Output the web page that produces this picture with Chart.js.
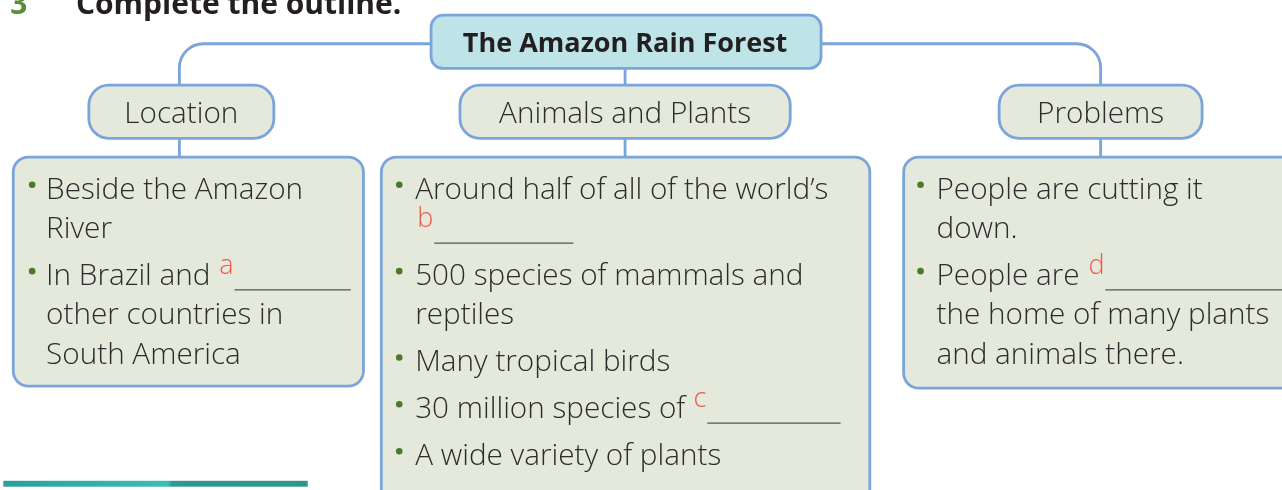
<!DOCTYPE html>
<html><head><meta charset="utf-8">
<script src="https://cdn.jsdelivr.net/npm/chart.js@4.4.1/dist/chart.umd.min.js"></script>
<style>html,body{margin:0;padding:0;background:#fff;overflow:hidden}#wrap{width:1282px;height:490px;position:relative}</style>
</head><body><div id="wrap"><canvas id="c" width="1282" height="490"></canvas></div>
<script>
// ---- content ----
const questionNumber = '3';
const instruction = 'Complete the outline.';
const rootTopic = 'The Amazon Rain Forest';
const branchTopics = ['Location', 'Animals and Plants', 'Problems'];
const locationPoints = [
  ['Beside the Amazon', 'River'],
  ['In Brazil and {a}', 'other countries in', 'South America']
];
const animalPlantPoints = [
  ['Around half of all of the world\u2019s', '{b}'],
  ['500 species of mammals and', 'reptiles'],
  ['Many tropical birds'],
  ['30 million species of {c}'],
  ['A wide variety of plants']
];
const problemPoints = [
  ['People are cutting it', 'down.'],
  ['People are {d}', 'the home of many plants', 'and animals there.']
];
const blankLetters = ['a', 'b', 'c', 'd'];

// ---- layout & style (positions in the 1282 x 490 value space) ----
const LAYOUT = {
  title: {numX: 7, textX: 73, baseline: 11},
  root: {x0: 430, x1: 822, y0: 12, y1: 66, r: 12, baseline: 49, cx: 625},
  branchY0: 83, branchY1: 137, branchR: 20, branchBaseline: 121,
  branches: [{x0: 86, x1: 272, cx: 177}, {x0: 459, x1: 791, cx: 625}, {x0: 1001, x1: 1205, cx: 1103}],
  elbowY: 41, elbowR: 24,
  panelY0: 156, panelR: 15,
  panels: [
    {x0: 10, x1: 362, y1: 388, dotX: 29, textX: 43},
    {x0: 380, x1: 871, y1: 520, dotX: 398, textX: 414},
    {x0: 905, x1: 1310, y1: 390, dotX: 922, textX: 938}
  ],
  firstBaseline: 198, lineStep: 40, bulletStep: 47.5, dotRise: 14,
  blankWidth: {a: 117, b: 140, c: 134, d: 190},
  letterRise: 11, underlineDrop: 5,
  bar: {x0: 0, x1: 306, y0: 484, y1: 490}
};
const STYLE = {
  border: '#7aa5db', borderW: 2.8,
  rootFill: '#bfe4e8', boxFill: '#e4e9dc',
  text: '#2c2c2c', bold: '#231f20', number: '#5b8c3a',
  red: '#ef5a4c', bullet: '#4b7a2b', underline: '#555555',
  body: '300 29.7px "Open Sans", sans-serif',
  head: '300 29.7px "Open Sans", sans-serif',
  rootFont: '700 27px "Open Sans", sans-serif',
  titleFont: '700 30px "Open Sans", sans-serif',
  letterFont: '300 27px "Open Sans", sans-serif'
};

const panelPoints = [locationPoints, animalPlantPoints, problemPoints];

// bullet positions (for chart points) derived from the lists
function lineBaselines(points) {
  const out = [];
  let y = LAYOUT.firstBaseline;
  points.forEach((lines, i) => {
    if (i > 0) y += LAYOUT.bulletStep;
    const ys = [];
    lines.forEach((l, j) => { if (j > 0) y += LAYOUT.lineStep; ys.push(y); });
    out.push(ys);
  });
  return out;
}
const bulletData = [];
panelPoints.forEach((pts, p) => {
  lineBaselines(pts).forEach(ys => bulletData.push({x: LAYOUT.panels[p].dotX, y: ys[0] - LAYOUT.dotRise}));
});

function rr(ctx, x0, y0, x1, y1, r) {
  ctx.beginPath();
  ctx.moveTo(x0 + r, y0);
  ctx.lineTo(x1 - r, y0); ctx.arcTo(x1, y0, x1, y0 + r, r);
  ctx.lineTo(x1, y1 - r); ctx.arcTo(x1, y1, x1 - r, y1, r);
  ctx.lineTo(x0 + r, y1); ctx.arcTo(x0, y1, x0, y1 - r, r);
  ctx.lineTo(x0, y0 + r); ctx.arcTo(x0, y0, x0 + r, y0, r);
  ctx.closePath();
}

const outlinePlugin = {
  id: 'outline',
  beforeDatasetsDraw(chart) {
    const ctx = chart.ctx, sx = chart.scales.x, sy = chart.scales.y;
    const X = v => sx.getPixelForValue(v), Y = v => sy.getPixelForValue(v);
    const L = LAYOUT;
    ctx.save();
    // title
    ctx.textBaseline = 'alphabetic'; ctx.textAlign = 'left';
    ctx.font = STYLE.titleFont;
    ctx.fillStyle = STYLE.number; ctx.fillText(questionNumber, X(L.title.numX), Y(L.title.baseline));
    ctx.fillStyle = STYLE.bold; ctx.fillText(instruction, X(L.title.textX), Y(L.title.baseline));

    // connectors
    ctx.strokeStyle = STYLE.border; ctx.lineWidth = STYLE.borderW; ctx.lineCap = 'butt';
    const lb = L.branches[0], rb = L.branches[2], mb = L.branches[1];
    ctx.beginPath();
    ctx.moveTo(X(L.root.x0), Y(L.elbowY));
    ctx.arcTo(X(lb.cx), Y(L.elbowY), X(lb.cx), Y(L.elbowY + L.elbowR), L.elbowR);
    ctx.lineTo(X(lb.cx), Y(L.branchY0));
    ctx.moveTo(X(L.root.x1), Y(L.elbowY));
    ctx.arcTo(X(rb.cx), Y(L.elbowY), X(rb.cx), Y(L.elbowY + L.elbowR), L.elbowR);
    ctx.lineTo(X(rb.cx), Y(L.branchY0));
    ctx.moveTo(X(mb.cx), Y(L.root.y1)); ctx.lineTo(X(mb.cx), Y(L.branchY0));
    L.branches.forEach(b => { ctx.moveTo(X(b.cx), Y(L.branchY1)); ctx.lineTo(X(b.cx), Y(L.panelY0)); });
    ctx.stroke();

    // root box
    rr(ctx, X(L.root.x0), Y(L.root.y0), X(L.root.x1), Y(L.root.y1), L.root.r);
    ctx.fillStyle = STYLE.rootFill; ctx.fill(); ctx.stroke();
    ctx.font = STYLE.rootFont; ctx.fillStyle = STYLE.bold; ctx.textAlign = 'center';
    ctx.fillText(rootTopic, X(L.root.cx), Y(L.root.baseline));

    // branch boxes
    L.branches.forEach((b, i) => {
      rr(ctx, X(b.x0), Y(L.branchY0), X(b.x1), Y(L.branchY1), L.branchR);
      ctx.fillStyle = STYLE.boxFill; ctx.fill(); ctx.stroke();
      ctx.font = STYLE.head; ctx.fillStyle = STYLE.text; ctx.textAlign = 'center';
      ctx.fillText(branchTopics[i], X((b.x0 + b.x1) / 2), Y(L.branchBaseline));
    });

    // panels
    L.panels.forEach((p, i) => {
      rr(ctx, X(p.x0), Y(L.panelY0), X(p.x1), Y(p.y1), L.panelR);
      ctx.fillStyle = STYLE.boxFill; ctx.fill(); ctx.strokeStyle = STYLE.border; ctx.lineWidth = STYLE.borderW; ctx.stroke();
      const bls = lineBaselines(panelPoints[i]);
      panelPoints[i].forEach((lines, k) => {
        lines.forEach((line, j) => {
          const y = bls[k][j];
          ctx.textAlign = 'left';
          const m = line.match(/\{(\w)\}/);
          const pre = m ? line.slice(0, m.index) : line;
          ctx.font = STYLE.body; ctx.fillStyle = STYLE.text;
          ctx.fillText(pre, X(p.textX), Y(y));
          if (m && blankLetters.includes(m[1])) {
            const px = p.textX + ctx.measureText(pre).width + 2;
            ctx.font = STYLE.letterFont; ctx.fillStyle = STYLE.red;
            ctx.fillText(m[1], X(px), Y(y - L.letterRise));
            const ux = px + ctx.measureText(m[1]).width + 1;
            ctx.beginPath();
            ctx.strokeStyle = STYLE.underline; ctx.lineWidth = 1.3;
            ctx.moveTo(X(ux), Y(y + L.underlineDrop));
            ctx.lineTo(X(ux + L.blankWidth[m[1]]), Y(y + L.underlineDrop));
            ctx.stroke();
          }
        });
      });
    });

    // bottom teal strip
    const g = ctx.createLinearGradient(X(L.bar.x0), 0, X(L.bar.x1), 0);
    g.addColorStop(0, '#2a9f99'); g.addColorStop(0.54, '#3bbdb5');
    g.addColorStop(0.555, '#2f998e'); g.addColorStop(1, '#2e9589');
    ctx.fillStyle = g;
    ctx.fillRect(X(L.bar.x0), Y(L.bar.y0), X(L.bar.x1) - X(L.bar.x0), Y(L.bar.y1) - Y(L.bar.y0));
    ctx.restore();
  }
};

new Chart(document.getElementById('c'), {
  type: 'scatter',
  data: {datasets: [{
    data: bulletData,
    pointRadius: 3.3, pointHoverRadius: 3.3,
    pointBackgroundColor: STYLE.bullet, pointBorderWidth: 0, showLine: false
  }]},
  options: {
    responsive: false, animation: false, devicePixelRatio: 1,
    layout: {padding: 0},
    events: [],
    scales: {
      x: {type: 'linear', min: 0, max: 1282, display: false},
      y: {type: 'linear', min: 0, max: 490, reverse: true, display: false}
    },
    plugins: {legend: {display: false}, tooltip: {enabled: false}}
  },
  plugins: [outlinePlugin]
});
</script></body></html>
